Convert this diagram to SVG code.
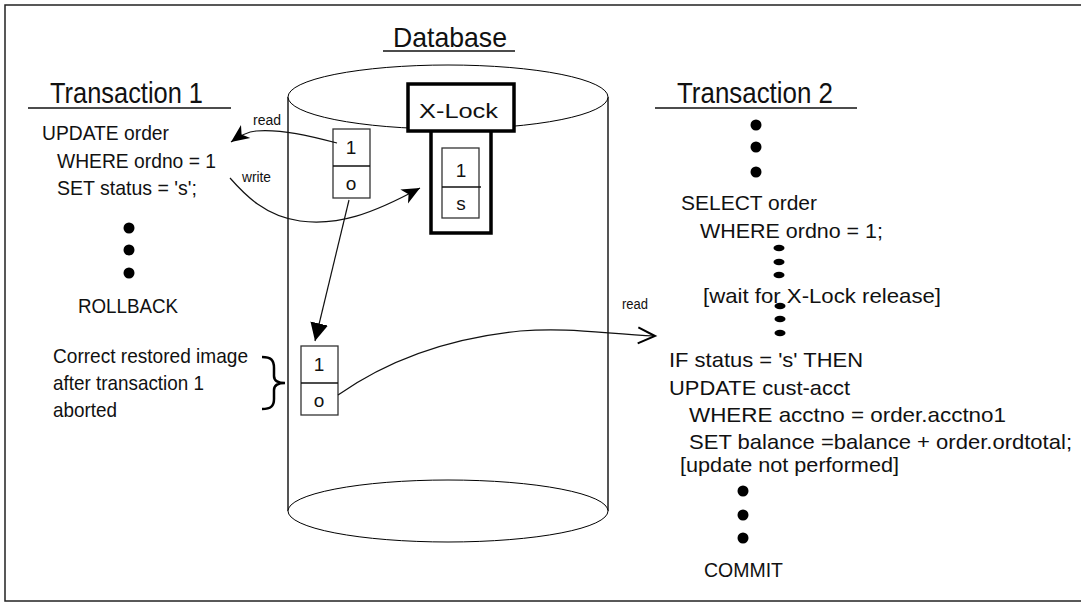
<svg xmlns="http://www.w3.org/2000/svg" width="1081" height="602" viewBox="0 0 1081 602">
<style>
text{font-family:"Liberation Sans",Arial,sans-serif;fill:#111;}
.title{font-size:30px;}
.db{font-size:28px;}
.t{font-size:21px;}
.sm{font-size:14px;}
.cell{font-size:19px;text-anchor:middle;}
.box{fill:#fff;stroke:#333;stroke-width:1.3;}
.thick{fill:#fff;stroke:#000;stroke-width:3.5;}
.cyl{fill:none;stroke:#555;stroke-width:2;}
.ell{fill:#fff;stroke:#000;stroke-width:1;}
.conn{fill:none;stroke:#111;stroke-width:1.2;}
.rule{stroke:#111;stroke-width:1.3;}
</style>
<defs>
<marker id="barb" markerUnits="userSpaceOnUse" markerWidth="24" markerHeight="24" refX="19" refY="9" orient="auto">
<path d="M19,9 L1,1 L6,9 L1,17 Z" fill="#000"/>
</marker>
<marker id="open" markerUnits="userSpaceOnUse" markerWidth="22" markerHeight="22" refX="18" refY="9" orient="auto">
<path d="M1,1 L18,9 L1,17" fill="none" stroke="#000" stroke-width="2"/>
</marker>
<marker id="tri" markerUnits="userSpaceOnUse" markerWidth="22" markerHeight="22" refX="18" refY="9" orient="auto">
<path d="M0,0 L18,9 L0,18 Z" fill="#000"/>
</marker>
</defs>
<rect x="5" y="5" width="1080" height="596" fill="#fff" stroke="#222" stroke-width="1.5"/>

<g id="database">
<line class="cyl" x1="288" y1="97" x2="288" y2="511"/>
<line class="cyl" x1="608" y1="97" x2="608" y2="511"/>
<ellipse class="ell" cx="448" cy="511" rx="160" ry="31"/>
<ellipse class="ell" cx="448" cy="97" rx="160" ry="32" fill="none"/>
<text class="db" x="393" y="47" textLength="114" lengthAdjust="spacingAndGlyphs">Database</text>
<line class="rule" x1="383" y1="51" x2="515" y2="51"/>
</g>

<g id="xlock">
<rect class="thick" x="431" y="129" width="60" height="104"/>
<rect class="thick" x="408" y="84" width="106" height="47"/>
<text class="t" x="419" y="118" style="font-size:20px" textLength="79" lengthAdjust="spacingAndGlyphs">X-Lock</text>
<rect class="box" x="442" y="148" width="37" height="70"/>
<line class="rule" x1="442" y1="187" x2="481" y2="187"/>
<text class="cell" x="461" y="177">1</text>
<text class="cell" x="461" y="210">s</text>
</g>

<g id="record-top">
<rect class="box" x="333" y="129" width="37" height="69"/>
<line class="rule" x1="333" y1="166" x2="370" y2="166"/>
<text class="cell" x="351" y="154">1</text>
<text class="cell" x="351" y="190">o</text>
</g>

<g id="record-restored">
<rect class="box" x="301" y="346" width="37" height="69"/>
<line class="rule" x1="301" y1="383" x2="338" y2="383"/>
<text class="cell" x="319" y="371">1</text>
<text class="cell" x="319" y="407">o</text>
</g>

<g id="transaction1">
<text class="title" x="50" y="103" textLength="153" lengthAdjust="spacingAndGlyphs">Transaction 1</text>
<line class="rule" x1="28" y1="108" x2="231" y2="108"/>
<text class="t" x="42" y="140" textLength="127" lengthAdjust="spacingAndGlyphs">UPDATE order</text>
<text class="t" x="57" y="168" textLength="159" lengthAdjust="spacingAndGlyphs">WHERE ordno = 1</text>
<text class="t" x="57" y="195" textLength="140" lengthAdjust="spacingAndGlyphs">SET status = 's';</text>
<circle cx="129" cy="228" r="5.5" fill="#000"/>
<circle cx="129" cy="250" r="5.5" fill="#000"/>
<circle cx="129" cy="273" r="5.5" fill="#000"/>
<text class="t" x="78" y="313" textLength="100" lengthAdjust="spacingAndGlyphs">ROLLBACK</text>
</g>

<g id="restored-note">
<text class="t" x="53" y="363" textLength="195" lengthAdjust="spacingAndGlyphs">Correct restored image</text>
<text class="t" x="53" y="390" textLength="151" lengthAdjust="spacingAndGlyphs">after transaction 1</text>
<text class="t" x="53" y="417" textLength="64" lengthAdjust="spacingAndGlyphs">aborted</text>
<path d="M262,357 C271,357 274,360 274,368 L274,376 C274,381 278,383 285,383 C278,383 274,385 274,390 L274,399 C274,406 271,409 262,409" fill="none" stroke="#000" stroke-width="2.5"/>
</g>

<g id="transaction2">
<text class="title" x="677" y="103" textLength="156" lengthAdjust="spacingAndGlyphs">Transaction 2</text>
<line class="rule" x1="655" y1="108" x2="857" y2="108"/>
<circle cx="756" cy="125" r="5.5" fill="#000"/>
<circle cx="756" cy="147" r="5.5" fill="#000"/>
<circle cx="756" cy="172" r="5.5" fill="#000"/>
<text class="t" x="681" y="210" textLength="136" lengthAdjust="spacingAndGlyphs">SELECT order</text>
<text class="t" x="700" y="238" textLength="183" lengthAdjust="spacingAndGlyphs">WHERE ordno = 1;</text>
<ellipse cx="779" cy="248" rx="5.5" ry="3.2" fill="#000"/>
<ellipse cx="779" cy="262" rx="5.5" ry="3.2" fill="#000"/>
<ellipse cx="779" cy="275" rx="5.5" ry="3.2" fill="#000"/>
<text class="t" x="703" y="303" textLength="238" lengthAdjust="spacingAndGlyphs">[wait for X-Lock release]</text>
<ellipse cx="780" cy="306" rx="5.5" ry="3.2" fill="#000"/>
<ellipse cx="780" cy="319" rx="5.5" ry="3.2" fill="#000"/>
<ellipse cx="780" cy="333" rx="5.5" ry="3.2" fill="#000"/>
<text class="t" x="669" y="367" textLength="194" lengthAdjust="spacingAndGlyphs">IF status = 's' THEN</text>
<text class="t" x="669" y="395" textLength="181" lengthAdjust="spacingAndGlyphs">UPDATE cust-acct</text>
<text class="t" x="689" y="422" textLength="317" lengthAdjust="spacingAndGlyphs">WHERE acctno  = order.acctno1</text>
<text class="t" x="689" y="449" textLength="383" lengthAdjust="spacingAndGlyphs">SET balance =balance + order.ordtotal;</text>
<text class="t" x="680" y="472" textLength="219" lengthAdjust="spacingAndGlyphs">[update not performed]</text>
<circle cx="743" cy="491" r="5.5" fill="#000"/>
<circle cx="743" cy="515" r="5.5" fill="#000"/>
<circle cx="743" cy="538" r="5.5" fill="#000"/>
<text class="t" x="704" y="577" textLength="79" lengthAdjust="spacingAndGlyphs">COMMIT</text>
</g>

<g id="connectors">
<path class="conn" d="M337,143 C310,136 282,129 256,131 C246,132 238,137 231,142" marker-end="url(#barb)"/>
<text class="sm" x="253" y="125" textLength="28" lengthAdjust="spacingAndGlyphs">read</text>
<path class="conn" d="M230,178 C245,195 265,216 300,221 C338,226 372,214 420,188" marker-end="url(#barb)"/>
<text class="sm" x="242" y="182" textLength="29" lengthAdjust="spacingAndGlyphs">write</text>
<line class="conn" x1="349" y1="200" x2="315" y2="341" marker-end="url(#tri)"/>
<path class="conn" d="M338,395 C395,355 460,337 520,331 C570,327 605,334 655,336" marker-end="url(#open)"/>
<text class="sm" x="622" y="309" textLength="26" lengthAdjust="spacingAndGlyphs">read</text>
</g>
</svg>
